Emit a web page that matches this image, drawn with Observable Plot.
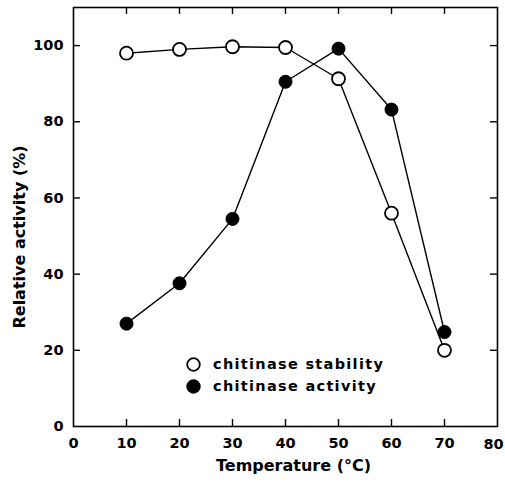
<!DOCTYPE html>
<html>
<head>
<meta charset="utf-8">
<script src="https://cdn.jsdelivr.net/npm/d3@7"></script>
<script src="https://cdn.jsdelivr.net/npm/@observablehq/plot@0.6"></script>
<style>
  html, body { margin: 0; padding: 0; background: #fff; }
  #wrap { position: relative; width: 505px; height: 489px; }
  .legend { position: absolute; left: 186px; top: 353px; font-family: "DejaVu Sans", sans-serif; font-weight: bold; font-size: 14.5px; letter-spacing: 1.3px; color: #000; line-height: 22px; }
  .legend .row { display: flex; align-items: center; }
  .legend svg { margin-right: 12px; }
</style>
</head>
<body>
<div id="wrap"></div>
<script>
const temperatures = [10, 20, 30, 40, 50, 60, 70];
const stability = [98, 99, 99.7, 99.5, 91.3, 56, 20];
const activity = [27, 37.6, 54.5, 90.5, 99.2, 83.2, 24.8];
const seriesNames = ["chitinase stability", "chitinase activity"];
const xTicks = [0, 10, 20, 30, 40, 50, 60, 70];
const xLastTick = [80];
const yTicks = [0, 20, 40, 60, 80, 100];
const innerXTicks = [10, 20, 30, 40, 50, 60, 70];
const innerYTicks = [20, 40, 60, 80, 100];

const stab = temperatures.map((t, i) => ({t, v: stability[i]}));
const act = temperatures.map((t, i) => ({t, v: activity[i]}));

const font = "DejaVu Sans, sans-serif";
const W = 505, H = 489, mL = 73, mR = 8, mT = 7, mB = 63;
const fw = W - mL - mR, fh = H - mT - mB, tk = 7;

const chart = Plot.plot({
  width: W,
  height: H,
  marginLeft: mL,
  marginRight: mR,
  marginTop: mT,
  marginBottom: mB,
  style: {fontFamily: font, fontSize: "14px", fontWeight: "bold", background: "#fff", color: "#000"},
  x: {domain: [0, 80]},
  y: {domain: [0, 110]},
  marks: [
    Plot.frame({stroke: "#000", strokeWidth: 1.6}),
    Plot.axisX({anchor: "bottom", ticks: xTicks, tickSize: 0, tickPadding: 11, label: null, fontWeight: "bold", fontSize: 14.5}),
    Plot.text(xLastTick, {x: d => d, frameAnchor: "bottom", lineAnchor: "top", dy: 12, dx: -4, fontWeight: "bold", fontSize: 14.5}),
    Plot.axisY({anchor: "left", ticks: yTicks, tickSize: 0, tickPadding: 10, label: null, fontWeight: "bold", fontSize: 14.5}),
    Plot.ruleX(innerXTicks, {x: d => d, insetTop: fh - tk, stroke: "#000", strokeWidth: 1.4}),
    Plot.ruleX(innerXTicks, {x: d => d, insetBottom: fh - tk, stroke: "#000", strokeWidth: 1.4}),
    Plot.ruleY(innerYTicks, {y: d => d, insetRight: fw - tk, stroke: "#000", strokeWidth: 1.4}),
    Plot.ruleY(innerYTicks, {y: d => d, insetLeft: fw - tk, stroke: "#000", strokeWidth: 1.4}),
    Plot.line(stab, {x: "t", y: "v", stroke: "#000", strokeWidth: 1.4}),
    Plot.line(act, {x: "t", y: "v", stroke: "#000", strokeWidth: 1.4}),
    Plot.dot(stab, {x: "t", y: "v", r: 6.5, fill: "#fff", stroke: "#000", strokeWidth: 1.8}),
    Plot.dot(act, {x: "t", y: "v", r: 6.5, fill: "#000", stroke: "#000", strokeWidth: 1}),
    Plot.text(["Temperature (°C)"], {frameAnchor: "bottom", dx: 8, dy: 44, fontSize: 16, fontWeight: "bold", letterSpacing: "1.2px"}),
    Plot.text(["Relative activity (%)"], {frameAnchor: "left", textAnchor: "middle", dx: -54, dy: 20, rotate: -90, fontSize: 16, fontWeight: "bold", letterSpacing: "1.4px"})
  ]
});

const wrap = document.getElementById("wrap");
wrap.appendChild(chart);

const legend = document.createElement("div");
legend.className = "legend";
legend.innerHTML = seriesNames.map((name, i) => `
  <div class="row"><svg width="15" height="15"><circle cx="7.5" cy="7.5" r="6.3" fill="${i ? '#000' : '#fff'}" stroke="#000" stroke-width="1.8"/></svg><span>${name}</span></div>`).join("");
wrap.appendChild(legend);
</script>
</body>
</html>
